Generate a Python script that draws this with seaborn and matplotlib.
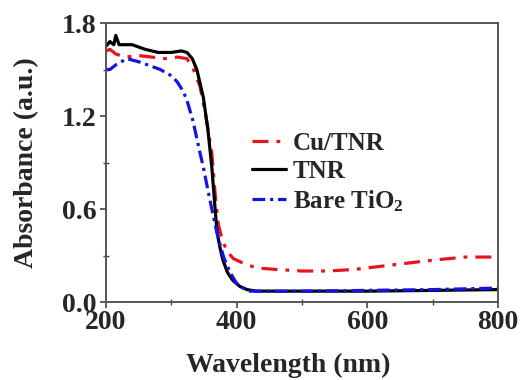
import numpy as np
import pandas as pd
import matplotlib
matplotlib.use("Agg")
import matplotlib.pyplot as plt
import seaborn as sns

# Cu/TNR (red)
cu_w = [200, 206, 215, 230, 250, 270, 290, 310, 324, 334, 344, 354, 362, 368, 372, 378, 385, 395, 410, 430, 460, 500, 540, 580, 620, 660, 700, 750, 800]
cu_a = [1.62, 1.63, 1.60, 1.58, 1.59, 1.58, 1.57, 1.58, 1.57, 1.50, 1.39, 1.17, 0.96, 0.65, 0.50, 0.40, 0.33, 0.28, 0.25, 0.22, 0.21, 0.20, 0.20, 0.21, 0.23, 0.25, 0.27, 0.29, 0.29]

# TNR (black)
tnr_w = [200, 206, 212, 215, 220, 240, 260, 280, 300, 315, 324, 332, 339, 349, 356, 362, 367, 370, 375, 379, 386, 394, 405, 416, 430, 500, 600, 700, 800]
tnr_a = [1.65, 1.68, 1.66, 1.72, 1.66, 1.66, 1.63, 1.61, 1.61, 1.62, 1.61, 1.57, 1.50, 1.32, 1.11, 0.87, 0.60, 0.45, 0.34, 0.27, 0.19, 0.14, 0.10, 0.08, 0.07, 0.07, 0.07, 0.075, 0.08]

# Bare TiO2 (blue)
ti_w = [200, 206, 215, 232, 250, 270, 283, 300, 309, 318, 324, 333, 344, 349, 356, 362, 368, 374, 380, 390, 400, 410, 420, 450, 500, 600, 700, 800]
ti_a = [1.50, 1.50, 1.53, 1.57, 1.55, 1.52, 1.50, 1.46, 1.42, 1.36, 1.30, 1.17, 0.96, 0.87, 0.72, 0.60, 0.48, 0.38, 0.29, 0.19, 0.12, 0.09, 0.07, 0.07, 0.07, 0.075, 0.08, 0.09]

labels = ["Cu/TNR", "TNR", "Bare TiO$_2$"]
colors = ["#e8141c", "#000000", "#1414e6"]

frames = []
for lab, w, a in zip(labels, [cu_w, tnr_w, ti_w], [cu_a, tnr_a, ti_a]):
    frames.append(pd.DataFrame({"Wavelength": w, "Absorbance": a, "Sample": lab}))
df = pd.concat(frames, ignore_index=True)

sns.set_style("ticks")
plt.rcParams["font.family"] = ["Liberation Serif", "DejaVu Serif"]
plt.rcParams["mathtext.fontset"] = "custom"
plt.rcParams["mathtext.rm"] = "Liberation Serif:bold"
plt.rcParams["mathtext.it"] = "Liberation Serif:bold"
plt.rcParams["mathtext.bf"] = "Liberation Serif:bold"

fig = plt.figure(figsize=(5.21, 3.80), dpi=100)
ax = fig.add_axes([106/521, 1-302/380, (498-106)/521, (302-23)/380])

dashes = {"Cu/TNR": (5, 2.5, 1.2, 2.5), "TNR": "", "Bare TiO$_2$": (4, 1.5, 1, 1.5)}
sns.lineplot(data=df, x="Wavelength", y="Absorbance", hue="Sample", style="Sample",
             palette=dict(zip(labels, colors)), dashes=dashes, linewidth=2.3,
             ax=ax, legend=True, sort=False)

ax.set_xlim(200, 800)
ax.set_ylim(0, 1.8)
ax.set_xticks([200, 400, 600, 800])
ax.set_xticks([300, 500, 700], minor=True)
ax.set_yticks([0.0, 0.6, 1.2, 1.8])
ax.set_yticks([0.3, 0.9, 1.5], minor=True)
ax.set_yticklabels(["0.0", "0.6", "1.2", "1.8"])
for lab in ax.get_xticklabels() + ax.get_yticklabels():
    lab.set_fontweight("bold")
ax.tick_params(axis="both", which="major", direction="out", length=4, width=1.2,
               labelsize=20, color="#444444")
ax.tick_params(axis="x", which="major", pad=2)
ax.tick_params(axis="y", which="major", pad=3)
ax.tick_params(axis="both", which="minor", direction="inout", length=4, width=1.0, color="#444444")
for s in ax.spines.values():
    s.set_visible(True)
    s.set_color("#555555")
    s.set_linewidth(1.4)

ax.set_xlabel("Wavelength (nm)", fontsize=20, fontweight="bold")
ax.xaxis.set_label_coords(0.464, -0.183)
ax.set_ylabel("Absorbance (a.u.)", fontsize=20, fontweight="bold", labelpad=16)

leg = ax.legend(loc="upper left", bbox_to_anchor=(0.372, 0.609), frameon=False,
                prop={"family": "Liberation Serif", "weight": "bold", "size": 18},
                handlelength=1.35, handletextpad=0.3, labelspacing=0.2, borderpad=0,
                borderaxespad=0)

fig.savefig("out.png", dpi=100)
